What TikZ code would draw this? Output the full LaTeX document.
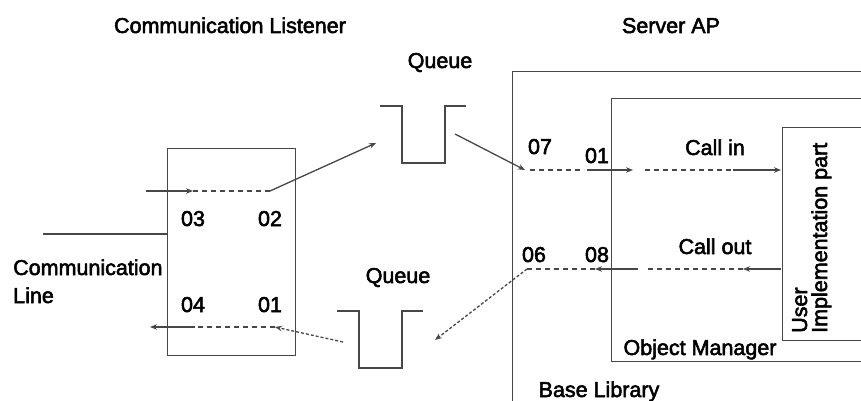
\documentclass[tikz,border=0pt]{standalone}
\usepackage{fontspec}
\setmainfont{Liberation Sans}[UprightFeatures={FakeBold=2.5}]
\usetikzlibrary{arrows.meta}
\begin{document}
\begin{tikzpicture}[x=1pt,y=-1pt,
  ln/.style={draw=black!72, line width=1.3pt},
  box/.style={ln, fill=none, inner sep=0pt, anchor=north west},
  dsh/.style={ln, dash pattern=on 5pt off 4pt},
  fdsh/.style={ln, dash pattern=on 3pt off 2pt},
  arr/.style={-{Stealth[length=7pt,width=5.5pt]}},
  lbl/.style={inner sep=0pt, anchor=base, font=\fontsize{21.5}{24}\selectfont, text=black},
  lblw/.style={lbl, anchor=base west},
  lblr/.style={lbl, anchor=base west, rotate=90},
]
\clip (0,0) rectangle (861,401);
% boxes
\node[box, minimum width=128pt, minimum height=207pt] (listener) at (167,148) {};
\node[box, minimum width=400pt, minimum height=400pt] (server) at (512,71) {};
\node[box, minimum width=300pt, minimum height=263pt] (objmgr) at (611,98) {};
\node[box, minimum width=200pt, minimum height=213pt] (user) at (782,127) {};
% queues
\draw[ln] (380,106) coordinate (q1a) -- (402,106) -- (402,163) -- (445,163) -- (445,106) -- (466,106) coordinate (q1b);
\draw[ln] (337,311) coordinate (q2a) -- (359,311) -- (359,368) -- (402,368) -- (402,311) -- (423,311) coordinate (q2b);
% labels
\node[lbl] (t1) at (230,33) {Communication Listener};
\node[lbl] (t2) at (671,33) {Server AP};
\node[lbl] (qt1) at (440,68) {Queue};
\node[lbl] (qt2) at (398,283) {Queue};
\node[lbl] (l03) at (193,226) {03};
\node[lbl] (l02) at (270,226) {02};
\node[lbl] (l04) at (193,312) {04};
\node[lbl] (l01) at (270,312) {01};
\node[lblw] (cl1) at (13,275) {Communication};
\node[lblw] (cl2) at (13,303) {Line};
\node[lbl] (s07) at (540,154) {07};
\node[lbl] (s01) at (597,163) {01};
\node[lbl] (s06) at (534,262) {06};
\node[lbl] (s08) at (597,262) {08};
\node[lbl] (callin) at (715,155) {Call in};
\node[lbl] (callout) at (715,254) {Call out};
\node[lbl] (om) at (700,355) {Object Manager};
\node[lbl] (bl) at (599,397) {Base Library};
\node[lblr] (u1) at (807,333) {User};
\node[lblr] (u2) at (827,333) {Implementation part};
% communication line
\coordinate (cA) at (43,234);
\coordinate (cB) at (167,234);
\draw[ln] (cA) -- (cB);
% inbound path
\coordinate (a1) at (146,191);
\coordinate (a2) at (193,191);
\coordinate (a3) at (270,191);
\coordinate (a4) at (376,143);
\coordinate (a5) at (455,134);
\coordinate (a6) at (525,170);
\coordinate (a7) at (530,170);
\coordinate (a8) at (584,170);
\coordinate (a9) at (587,170);
\coordinate (a10) at (633,170);
\coordinate (a11) at (645,170);
\coordinate (a12) at (733,170);
\coordinate (a13) at (781,170);
\draw[ln, arr] (a1) -- (a2);
\draw[dsh] (a2) -- (a3);
\draw[ln, arr] (a3) -- (a4);
\draw[ln, arr] (a5) -- (a6);
\draw[dsh] (a7) -- (a8);
\draw[ln, arr] (a9) -- (a10);
\draw[dsh] (a11) -- (a12);
\draw[ln, arr] (a12) -- (a13);
% outbound path
\coordinate (b1) at (781,269);
\coordinate (b2) at (743,269);
\coordinate (b3) at (645,269);
\coordinate (b4) at (638,269);
\coordinate (b5) at (595,269);
\coordinate (b6) at (527,269);
\coordinate (b7) at (435,340);
\coordinate (b8) at (343,342);
\coordinate (b9) at (275,327);
\coordinate (b10) at (195,327);
\coordinate (b11) at (150,327);
\draw[ln, arr] (b1) -- (b2);
\draw[dsh] (b2) -- (b3);
\draw[ln, arr] (b4) -- (b5);
\draw[dsh] (b5) -- (b6);
\draw[fdsh, arr] (b6) -- (b7);
\draw[fdsh, arr] (b8) -- (b9);
\draw[dsh] (b9) -- (b10);
\draw[ln, arr] (b10) -- (b11);
\end{tikzpicture}
\end{document}
